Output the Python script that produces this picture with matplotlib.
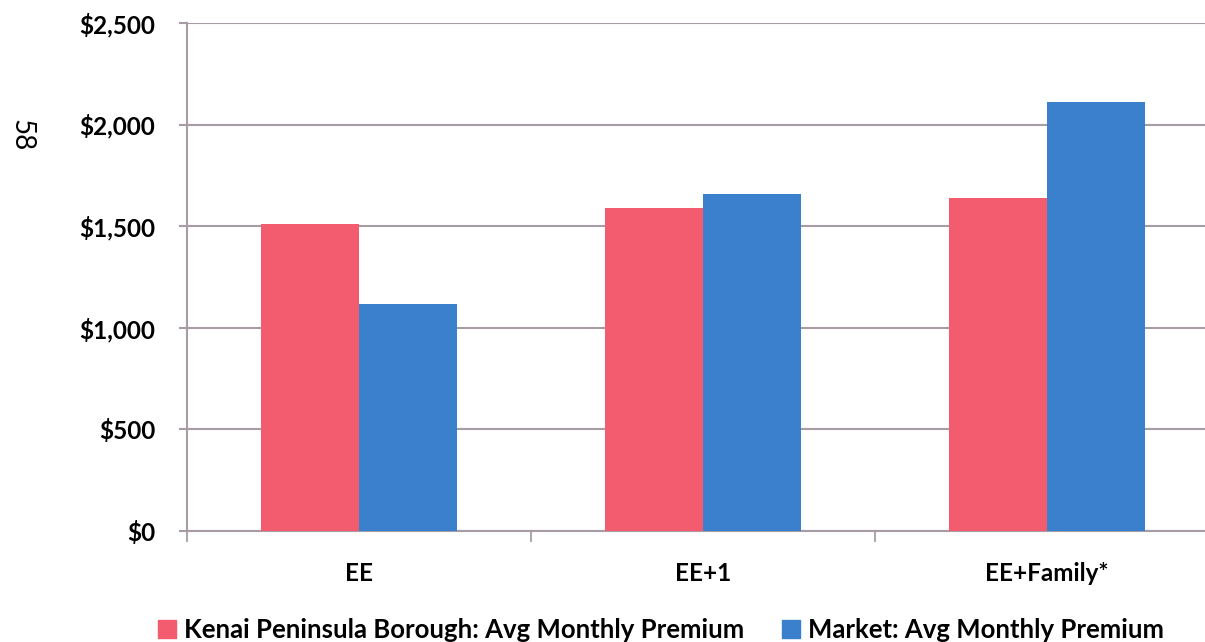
import matplotlib
matplotlib.use("Agg")
import numpy as np
from matplotlib import pyplot as plt
from matplotlib.patches import Patch

categories = ["EE", "EE+1", "EE+Family*"]
kenai = [1510, 1590, 1640]
market = [1115, 1660, 2110]
series_names = ["Kenai Peninsula Borough: Avg Monthly Premium", "Market: Avg Monthly Premium"]
yticks = [0, 500, 1000, 1500, 2000, 2500]
ytick_labels = ["$0", "$500", "$1,000", "$1,500", "$2,000", "$2,500"]

red = "#F25C6E"
blue = "#3A80CC"
grid_col = "#A79CA6"

plt.rcParams["font.family"] = ["Lato", "DejaVu Sans"]

fig = plt.figure(figsize=(12.05, 6.42), dpi=100)
ax = fig.add_axes([187/1205, 1-531/642, 1032/1205, (531-23)/642])

x = np.arange(len(categories))
w = 1/3.5
ax.bar(x - w/2, kenai, w, color=red, zorder=3)
ax.bar(x + w/2, market, w, color=blue, zorder=3)

ax.set_xlim(-0.5, 2.5)
ax.set_ylim(0, 2500)
ax.set_yticks(yticks)
ax.set_yticklabels(ytick_labels, fontsize=17.5, fontweight="bold")
ax.set_xticks(x)
ax.set_xticklabels(categories, fontsize=17.5, fontweight="bold")
ax.tick_params(axis="x", length=0, pad=22)
ax.tick_params(axis="y", length=0, pad=23)
# category boundary ticks
ax.set_xticks([-0.5, 0.5, 1.5, 2.5], minor=True)
ax.tick_params(axis="x", which="minor", length=8, color=grid_col, width=1.3)
ax.yaxis.grid(True, color=grid_col, linewidth=1.5, zorder=0)
for y in yticks:
    ax.plot([-0.5 - 0.02, -0.5], [y, y], color=grid_col, lw=1.5, clip_on=False)
for s in ["top", "right"]:
    ax.spines[s].set_visible(False)
for s in ["left", "bottom"]:
    ax.spines[s].set_color(grid_col)
    ax.spines[s].set_linewidth(1.5)

fig.text(21/1205, 1-135/642, "58", rotation=270, fontsize=20, ha="center", va="center")

handles = [Patch(color=red), Patch(color=blue)]
fig.legend(handles, series_names, loc="center", bbox_to_anchor=(661/1205, 1-630/642),
           ncol=2, frameon=False, handlelength=0.7, handleheight=0.7,
           handletextpad=0.3, columnspacing=1.5, prop={"weight": "bold", "size": 18.5})

fig.savefig("out.png", dpi=100)
